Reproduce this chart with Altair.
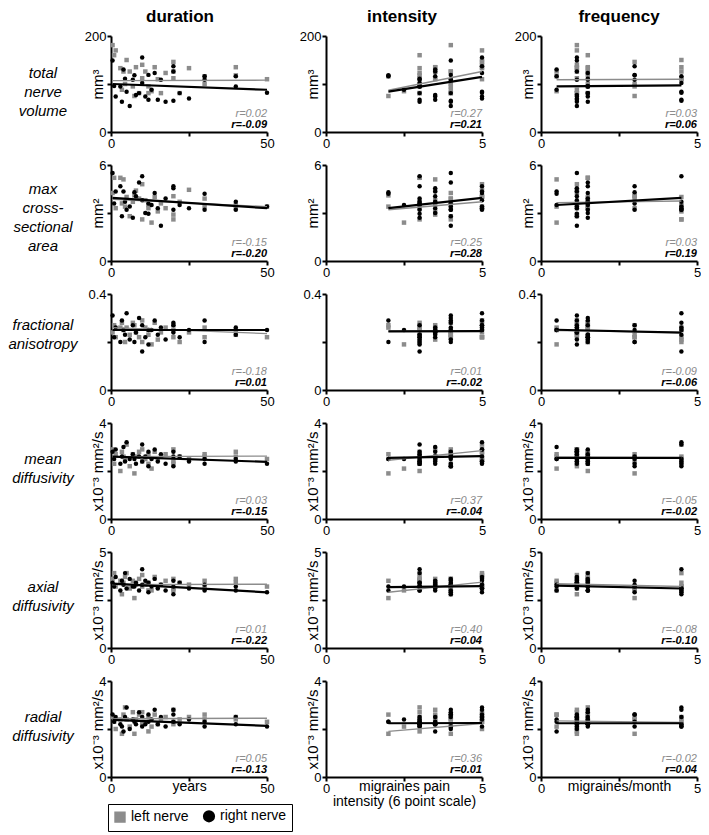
import altair as alt
import pandas as pd

FONT = "Liberation Sans"
GRAY = "#8c8c8c"

# ---- subjects: x variables ----
DURATION = [0.5, 1, 1.5, 3, 3.5, 4, 4.5, 5, 6, 7, 7.5, 8, 9, 10, 10, 11, 12, 12, 13, 14, 15, 16, 17.5, 20, 20, 20, 22, 25, 30, 30, 40, 40, 50]
INTENSITY = [4, 3, 5, 3, 4, 3.5, 3, 5, 4, 3, 2, 3.5, 4, 3, 5, 3.5, 4, 3, 2.5, 5, 3.5, 4, 3, 5, 3.5, 4, 3, 5, 2, 4, 3.5, 3, 5]
FREQUENCY = [1.15, 1.5, 1.15, 1.5, 1.15, 0.5, 1.5, 4.5, 1.15, 1.5, 3.0, 1.15, 1.5, 4.5, 1.15, 1.5, 3.0, 1.15, 0.5, 1.5, 4.5, 1.15, 1.5, 3.0, 1.15, 4.5, 1.5, 1.15, 0.5, 3.0, 4.5, 1.5, 4.5]

# ---- measures: left nerve ----
L_TNV = [181, 160, 170, 133, 88, 126, 100, 150, 126, 95, 75, 135, 81, 112, 140, 126, 95, 81, 85, 135, 110, 81, 123, 146, 112, 126, 81, 133, 116, 100, 135, 118, 110]
L_CSA = [4.25, 5.2, 3.3, 5.2, 3.6, 5.1, 3.4, 4.0, 2.8, 3.7, 4.1, 4.4, 3.9, 2.6, 4.8, 3.8, 3.3, 3.5, 2.4, 4.0, 3.1, 3.6, 3.3, 4.05, 2.9, 2.6, 3.7, 4.45, 3.4, 3.9, 3.5, 3.3, 3.4]
L_FA = [0.24, 0.27, 0.22, 0.26, 0.28, 0.25, 0.20, 0.26, 0.23, 0.28, 0.27, 0.24, 0.22, 0.20, 0.29, 0.26, 0.23, 0.25, 0.19, 0.28, 0.21, 0.24, 0.26, 0.22, 0.27, 0.25, 0.20, 0.24, 0.26, 0.22, 0.25, 0.23, 0.22]
L_MD = [2.9, 2.3, 2.7, 2.0, 2.8, 2.6, 2.5, 3.1, 2.2, 2.7, 1.9, 2.6, 2.8, 2.4, 2.9, 2.5, 2.7, 2.3, 2.1, 2.8, 2.5, 2.6, 2.7, 2.4, 2.9, 2.3, 2.6, 2.5, 2.7, 2.6, 2.6, 2.8, 2.5]
L_AD = [3.6, 3.9, 3.2, 3.5, 2.8, 3.4, 3.7, 3.9, 3.1, 3.5, 2.6, 3.3, 3.6, 3.2, 3.8, 3.3, 3.0, 3.4, 3.0, 3.7, 3.2, 3.3, 3.5, 3.1, 3.6, 3.0, 3.4, 3.3, 3.5, 3.2, 3.4, 3.6, 3.2]
L_RD = [2.5, 2.3, 2.0, 2.4, 1.8, 2.6, 2.9, 2.4, 2.1, 2.7, 1.8, 2.4, 2.6, 2.2, 2.7, 2.3, 2.5, 1.9, 2.1, 2.6, 2.2, 2.4, 2.5, 2.3, 2.8, 2.2, 2.4, 2.5, 2.6, 2.4, 2.5, 2.4, 2.3]

# ---- measures: right nerve ----
R_TNV = [149, 96, 74, 95, 63, 130, 111, 84, 54, 109, 118, 77, 81, 102, 155, 74, 119, 67, 88, 123, 67, 109, 63, 137, 126, 65, 81, 70, 116, 109, 116, 95, 82]
R_CSA = [5.5, 3.6, 4.35, 4.67, 2.8, 4.35, 3.7, 3.2, 3.4, 2.7, 4.3, 4.05, 4.9, 5.3, 3.8, 3.0, 3.6, 2.95, 3.5, 4.25, 3.3, 2.2, 3.9, 4.67, 4.55, 3.2, 3.5, 3.3, 4.2, 3.2, 3.7, 3.2, 3.4]
R_FA = [0.31, 0.22, 0.26, 0.20, 0.29, 0.25, 0.23, 0.32, 0.21, 0.27, 0.20, 0.24, 0.30, 0.16, 0.27, 0.22, 0.25, 0.19, 0.25, 0.29, 0.23, 0.26, 0.21, 0.27, 0.24, 0.28, 0.22, 0.25, 0.29, 0.20, 0.26, 0.23, 0.25]
R_MD = [2.8, 2.5, 2.9, 2.3, 2.6, 3.0, 2.4, 3.2, 2.5, 2.7, 2.5, 2.3, 2.6, 3.1, 2.4, 2.6, 2.2, 2.8, 2.5, 2.9, 2.4, 2.7, 2.3, 2.6, 2.8, 2.2, 2.6, 2.4, 2.5, 2.3, 2.5, 2.4, 2.3]
R_AD = [3.4, 3.2, 3.7, 3.0, 3.5, 3.3, 3.9, 3.1, 3.6, 3.2, 3.2, 3.4, 3.0, 4.1, 3.3, 3.5, 2.9, 3.4, 3.2, 3.6, 3.1, 3.3, 3.0, 3.5, 3.2, 2.8, 3.4, 3.1, 3.0, 3.3, 3.0, 3.2, 2.9]
R_RD = [2.6, 2.3, 2.5, 2.2, 2.1, 1.9, 2.5, 2.9, 2.0, 2.4, 2.3, 2.2, 2.7, 2.1, 2.5, 2.2, 2.6, 2.3, 2.4, 2.8, 2.2, 2.5, 2.1, 2.6, 2.3, 2.8, 2.2, 2.4, 2.3, 2.1, 2.5, 2.2, 2.1]

MEASURES = ["tnv", "csa", "fa", "md", "ad", "rd"]
LEFT = dict(zip(MEASURES, [L_TNV, L_CSA, L_FA, L_MD, L_AD, L_RD]))
RIGHT = dict(zip(MEASURES, [R_TNV, R_CSA, R_FA, R_MD, R_AD, R_RD]))

ROW_LABELS = ["total\nnerve\nvolume", "max\ncross-\nsectional\narea", "fractional\nanisotropy",
              "mean\ndiffusivity", "axial\ndiffusivity", "radial\ndiffusivity"]
YMAX = [200, 6, 0.4, 4, 5, 4]
YMAX_LABEL = ["200", "6", "0.4", "4", "5", "4"]
YTITLES = ["mm³", "mm²", "", "x10⁻³ mm²/s", "x10⁻³ mm²/s", "x10⁻³ mm²/s"]

XVARS = ["duration", "intensity", "frequency"]
COL_TITLES = ["duration", "intensity", "frequency"]
XMAX = [50, 5, 5]
XMAX_LABEL = ["50", "5", "5"]
XTITLES = ["years", ["migraines pain", "intensity (6 point scale)"], "migraines/month"]
XRANGE = [(0.5, 50), (2, 5), (0.5, 4.5)]

# regression line end values [row][col]
LEFT_START = [[107, 87, 109], [3.85, 3.2, 3.65], [0.26, 0.245, 0.248], [2.6, 2.45, 2.58], [3.3, 2.9, 3.35], [2.43, 1.9, 2.34]]
LEFT_END = [[108, 126, 110], [3.4, 3.7, 3.75], [0.235, 0.245, 0.24], [2.62, 2.85, 2.55], [3.32, 3.43, 3.2], [2.45, 2.23, 2.27]]
RIGHT_START = [[100, 84, 95], [3.95, 3.3, 3.5], [0.25, 0.244, 0.251], [2.6, 2.55, 2.55], [3.35, 3.17, 3.25], [2.38, 2.24, 2.24]]
RIGHT_END = [[88, 115, 97], [3.3, 3.95, 3.95], [0.25, 0.245, 0.239], [2.38, 2.62, 2.55], [2.9, 3.22, 3.1], [2.13, 2.25, 2.24]]

R_LEFT = [[0.02, 0.27, 0.03], [-0.15, 0.25, 0.03], [-0.18, 0.01, -0.09], [0.03, 0.37, -0.05], [0.01, 0.40, -0.08], [0.05, 0.36, -0.02]]
R_RIGHT = [[-0.09, 0.21, 0.06], [-0.20, 0.28, 0.19], [0.01, -0.02, -0.06], [-0.15, -0.04, -0.02], [-0.22, 0.04, -0.10], [-0.13, 0.01, 0.04]]

NERVES = ["left nerve", "right nerve"]

# ---- layout / style ----
W, H = 156, 96
ROW_SPACING = 33
ROW_LABEL_Y = [37, 24, 31, 36, 35, 36]   # first line position below plot top
TITLE_DX = [-9, -2, 0]
LEGEND_Y = 5 * (H + ROW_SPACING) + H + 27

records = []
for nerve, vals in (("left nerve", LEFT), ("right nerve", RIGHT)):
    for k in range(len(DURATION)):
        rec = {"nerve": nerve, "duration": DURATION[k], "intensity": INTENSITY[k], "frequency": FREQUENCY[k]}
        for m in MEASURES:
            rec[m] = vals[m][k]
        records.append(rec)
pts = pd.DataFrame(records)

cscale = alt.Scale(domain=NERVES, range=[GRAY, "#000000"])
sscale = alt.Scale(domain=NERVES, range=["square", "circle"])
leg = alt.Legend(orient="none", legendX=-3, legendY=LEGEND_Y, direction="horizontal", title=None,
                 strokeColor="black", padding=5, symbolSize=100, symbolStrokeWidth=0,
                 labelFontSize=14, labelFont=FONT, labelColor="black", columnPadding=10,
                 labelLimit=200, symbolOpacity=1)


def make_panel(i, j):
    m = MEASURES[i]
    xv = XVARS[j]
    ymax, xmax = YMAX[i], XMAX[j]
    ykw = dict(values=[0, ymax / 2, ymax],
               labelExpr=f"datum.value == 0 ? '0' : (datum.value == {ymax} ? '{YMAX_LABEL[i]}' : '')",
               labelOverlap=False)
    if YTITLES[i]:
        ykw.update(title=YTITLES[i], titleX=-6, titleFontSize=15)
    else:
        ykw.update(title=None)
    yaxis = alt.Axis(**ykw)
    xkw = dict(values=[0, xmax / 2, xmax],
               labelExpr=f"datum.value == 0 ? '0' : (datum.value == {xmax} ? '{XMAX_LABEL[j]}' : '')",
               labelOverlap=False)
    if i == len(MEASURES) - 1:
        xkw.update(title=XTITLES[j], titleY=13, titleBaseline="alphabetic", titleFontSize=14,
                   titleLineHeight=15)
    else:
        xkw.update(title=None)
    xaxis = alt.Axis(**xkw)
    xs = alt.Scale(domain=[0, xmax], nice=False)
    ys = alt.Scale(domain=[0, ymax], nice=False)

    points = alt.Chart(pts).mark_point(filled=True, size=20, opacity=1).encode(
        x=alt.X(f"{xv}:Q", scale=xs, axis=xaxis),
        y=alt.Y(f"{m}:Q", scale=ys, axis=yaxis),
        color=alt.Color("nerve:N", scale=cscale, legend=leg),
        shape=alt.Shape("nerve:N", scale=sscale, legend=leg),
    )
    x0, x1 = XRANGE[j]
    ldf = pd.DataFrame({
        "nerve": ["left nerve", "left nerve", "right nerve", "right nerve"],
        xv: [x0, x1, x0, x1],
        m: [LEFT_START[i][j], LEFT_END[i][j], RIGHT_START[i][j], RIGHT_END[i][j]],
    })
    lines = alt.Chart(ldf).mark_line().encode(
        x=alt.X(f"{xv}:Q", scale=xs, axis=xaxis),
        y=alt.Y(f"{m}:Q", scale=ys, axis=yaxis),
        color=alt.Color("nerve:N", scale=cscale, legend=None),
        strokeWidth=alt.StrokeWidth("nerve:N", scale=alt.Scale(domain=NERVES, range=[1.4, 2.2]), legend=None),
    )
    rl = alt.Chart(pd.DataFrame({"t": [f"r={R_LEFT[i][j]:.2f}"]})).mark_text(
        align="right", baseline="alphabetic", fontStyle="italic", fontSize=11, font=FONT, color=GRAY
    ).encode(x=alt.value(W), y=alt.value(H - 15), text="t:N")
    rr = alt.Chart(pd.DataFrame({"t": [f"r={R_RIGHT[i][j]:.2f}"]})).mark_text(
        align="right", baseline="alphabetic", fontStyle="italic", fontWeight="bold", fontSize=11,
        font=FONT, color="black"
    ).encode(x=alt.value(W), y=alt.value(H - 4), text="t:N")
    layers = [points, lines, rl, rr]
    if j == 0:
        lab = alt.Chart(pd.DataFrame({"lab": [ROW_LABELS[i]]})).mark_text(
            align="center", baseline="middle", fontStyle="italic", fontSize=15, font=FONT,
            lineBreak="\n", lineHeight=19, color="black"
        ).encode(x=alt.value(-68), y=alt.value(ROW_LABEL_Y[i]), text="lab:N")
        layers.append(lab)
    p = alt.layer(*layers).properties(width=W, height=H)
    if i == 0:
        p = p.properties(title=alt.TitleParams(COL_TITLES[j], fontSize=17, fontWeight="bold", font=FONT,
                                               color="black", offset=4, frame="group", anchor="middle",
                                               dx=TITLE_DX[j]))
    return p


panels = [make_panel(i, j) for i in range(len(MEASURES)) for j in range(len(XVARS))]

chart = alt.concat(*panels, columns=3, spacing={"row": ROW_SPACING, "column": 59}, bounds="flush").properties(
    padding=0
).configure_axis(
    domainColor="black", domainWidth=2, tickColor="black", tickWidth=2, tickSize=4,
    labelFont=FONT, labelFontSize=13, labelColor="black", labelPadding=1, labelFlush=False,
    titleFont=FONT, titleFontWeight="normal", titleColor="black", grid=False
).configure_view(stroke=None)

chart.save("out.html", embed_options={"renderer": "svg", "actions": False})
